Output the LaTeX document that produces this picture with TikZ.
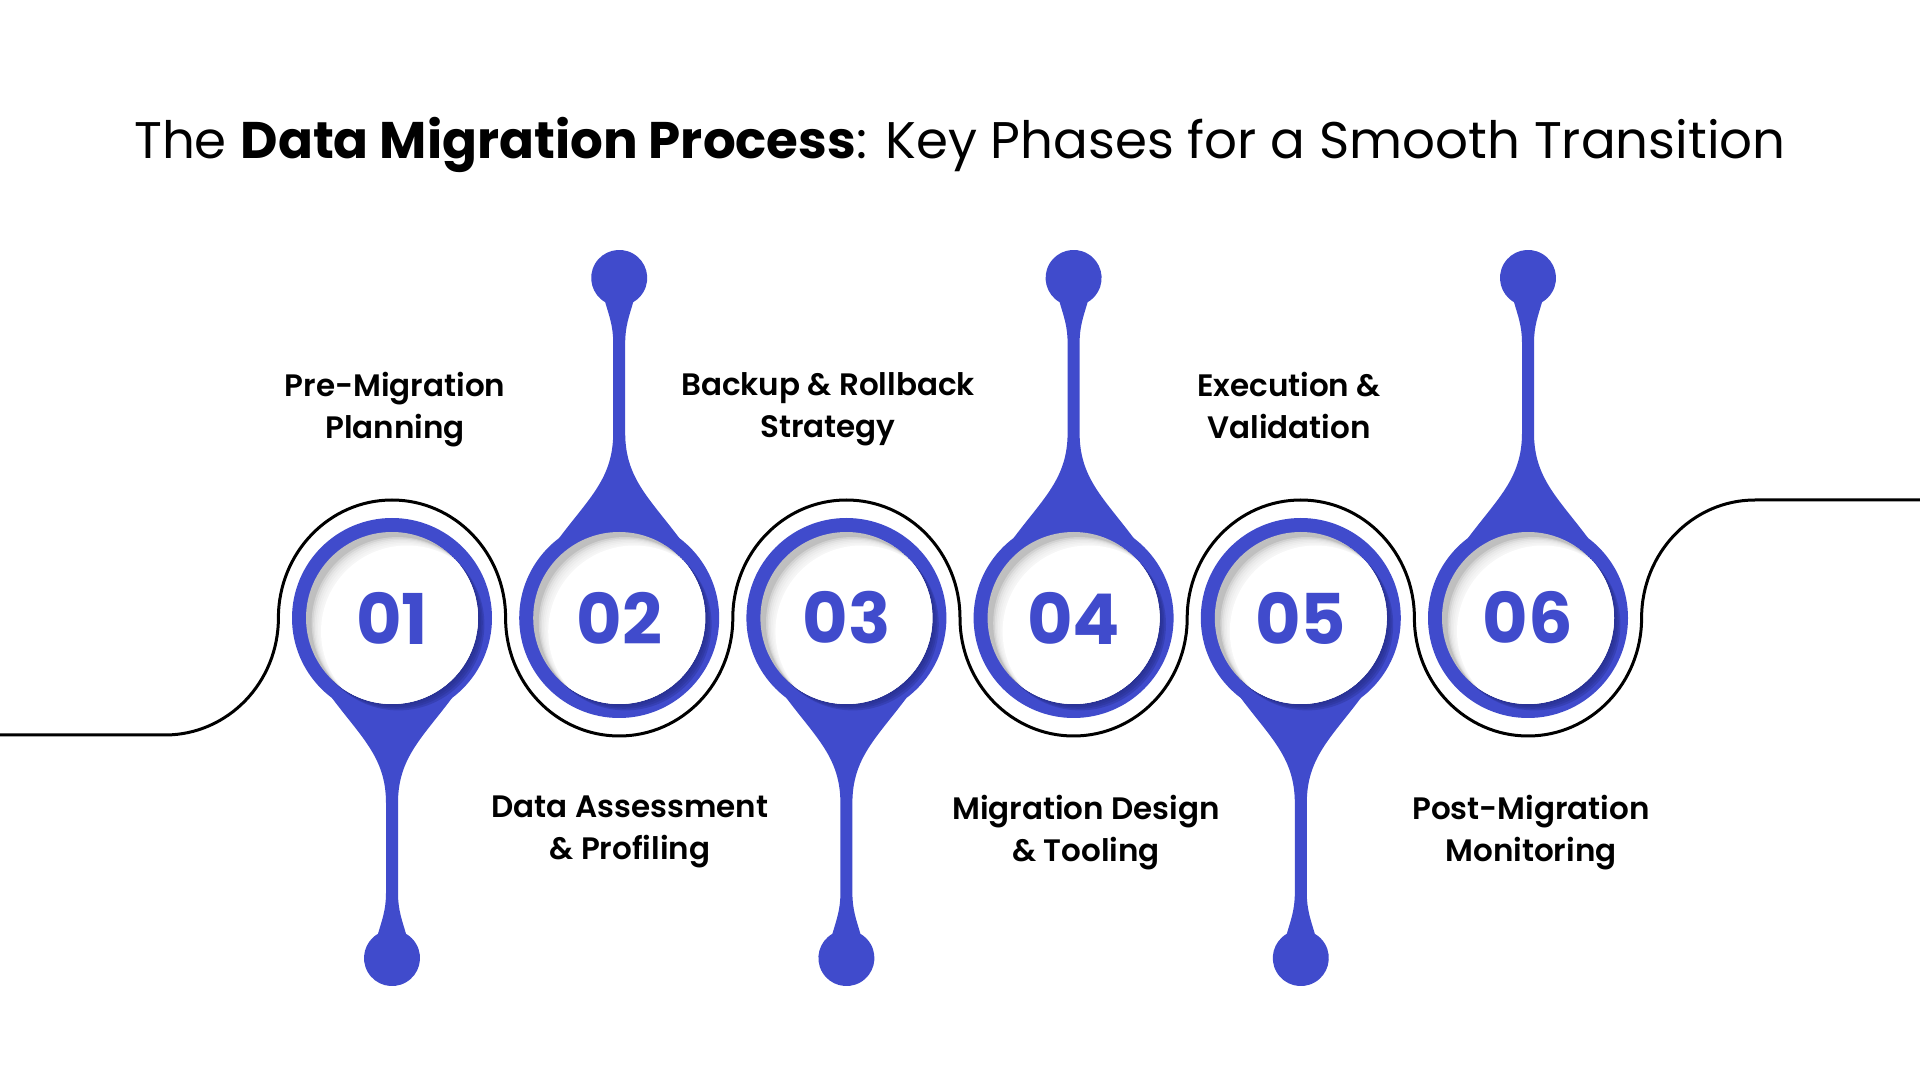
\documentclass[tikz,border=0pt]{standalone}
\usepackage{fontspec}
\setmainfont{Poppins}
\newfontfamily\medfont{Poppins SemiBold}
\definecolor{royal}{RGB}{64, 75, 204}
\definecolor{royaldark}{RGB}{38, 46, 140}

\begin{document}
\begin{tikzpicture}[x=1pt,y=1pt,
    numtxt/.style={text=royal, font=\bfseries\fontsize{70}{70}\selectfont},
    phase/.style={align=center, text depth=0pt, font=\medfont\fontsize{31}{42}\selectfont}]
  \useasboundingbox (0,0) rectangle (1920,1080);
  \fill[white] (0,0) rectangle (1920,1080);
  \node (title) at (960,935) {\fontsize{51.5}{60}\selectfont The \textbf{Data Migration Process}: Key Phases for a Smooth Transition};
  % wavy line behind the phases
  \draw[line width=3pt] (0,345) -- (165,345) arc[start angle=-90, end angle=0, x radius=113.4pt, y radius=117pt]
      \foreach \a in {0,360,0,360,0,360} { arc[start angle=180, end angle=\a, x radius=113.6pt, y radius=118pt] }
      arc[start angle=180, end angle=90, x radius=113.4pt, y radius=118pt] -- (1920,580);
  % phase circles with their pins
  \foreach \i/\d in {1/-1,2/1,3/-1,4/1,5/-1,6/1}{
    \begin{scope}[shift={({392+227.2*(\i-1)},462)}]
      \fill[royal, yscale=\d] (-60,80) .. controls (-30,120) and (-6,140) .. (-6,185) -- (-6,275)
          .. controls (-6,292) and (-10,302) .. (-14,315.8) arc[start angle=240, end angle=-60, radius=28pt]
          .. controls (10,302) and (6,292) .. (6,275) -- (6,185) .. controls (6,140) and (30,120) .. (60,80) -- cycle;
      \fill[royal] (0,0) circle (100pt);
      \foreach \k in {1,...,4} \fill[royaldark, opacity=0.35] (\k*1.6,-\k*1.6) circle (86pt);
      \begin{scope}
        \clip (0,0) circle (86pt);
        \fill[gray!50] (0,0) circle (86pt);
        \foreach \k in {1,...,6} \fill[white, opacity=0.3] (4+\k*1.6,-3.6-\k*1.45) circle (86pt);
        \fill[white] (15,-13.5) circle (86pt);
      \end{scope}
      \node[numtxt] (n\i) at (0,0) {0\i};
    \end{scope}
  }
  % phase labels
  \node[phase] (l1) at (395,675) {Pre-Migration\\Planning};
  \node[phase] (l2) at (630,252) {Data Assessment\\\& Profiling};
  \node[phase] (l3) at (828,675) {Backup \& Rollback\\Strategy};
  \node[phase] (l4) at (1086,252) {Migration Design\\\& Tooling};
  \node[phase] (l5) at (1289,675) {Execution \&\\Validation};
  \node[phase] (l6) at (1531,252) {Post-Migration\\Monitoring};
\end{tikzpicture}
\end{document}
